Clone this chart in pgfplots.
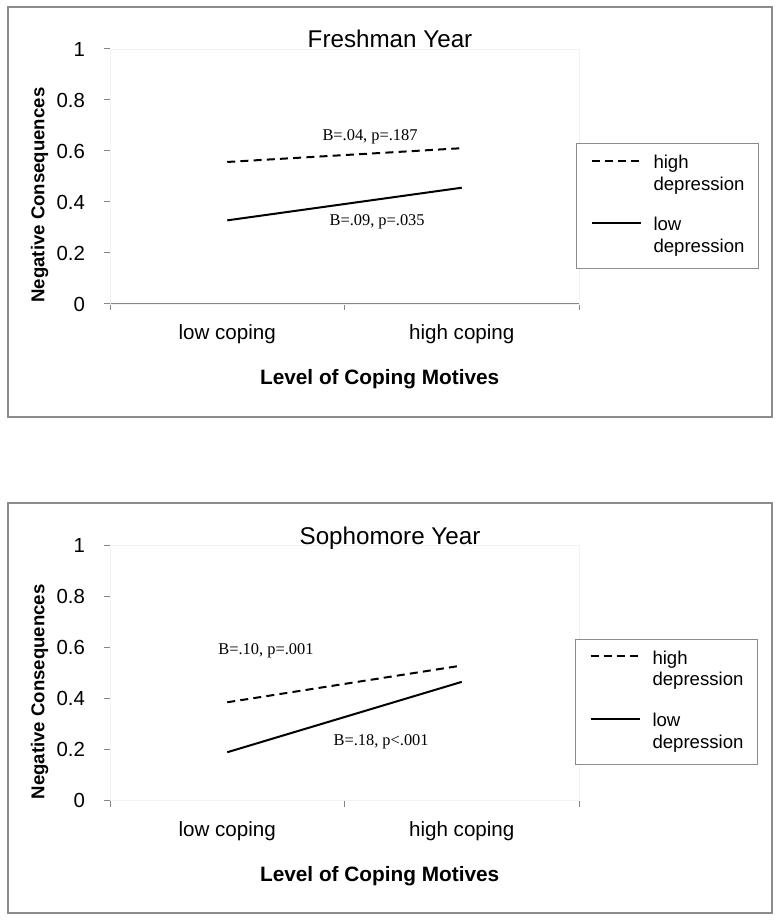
\documentclass[border=0pt]{standalone}
\usepackage{pgfplots}
\pgfplotsset{compat=1.18}
\usepackage{fontspec}
\setmainfont{Liberation Sans}
\newfontfamily\annfont{Liberation Serif}
\definecolor{axgray}{HTML}{868686}
\definecolor{framegray}{HTML}{8C8C8C}
\pgfplotsset{
  panel/.style={
    scale only axis, width=234.5pt, height=127.5pt,
    anchor=south west, clip=false,
    xmin=0, xmax=2, ymin=0, ymax=1,
    axis x line*=bottom, axis y line*=left,
    axis line style={axgray, line width=0.5pt, -},
    every tick/.style={axgray, line width=0.5pt},
    tick align=outside, major tick length=3pt,
    xtick={0,1,2}, xticklabels={,,},
    extra x ticks={0.5,1.5}, extra x tick labels={low coping, high coping},
    extra x tick style={major tick length=0pt},
    xticklabel style={font=\fontsize{10.3}{12}\selectfont, yshift=-7pt},
    ytick={0,0.2,0.4,0.6,0.8,1},
    yticklabels={0,0.2,0.4,0.6,0.8,1},
    yticklabel style={font=\fontsize{10.2}{12}\selectfont, xshift=-6pt},
    xlabel={Level of Coping Motives},
    xlabel style={font=\bfseries\fontsize{10.4}{12}\selectfont, at={(axis description cs:0.575,-0.294)}, anchor=center},
    ylabel={Negative Consequences},
    ylabel style={font=\bfseries\fontsize{9.3}{11}\selectfont, at={(axis description cs:-0.1503,0.427)}, anchor=center},
    every axis title shift=0pt,
    title style={at={(axis description cs:0.597,1.006)}, anchor=base, font=\fontsize{12.1}{14}\selectfont, inner sep=0pt},
    legend style={draw=framegray, line width=0.5pt, fill=white,
      font=\fontsize{9.3}{10.75}\selectfont,
      inner xsep=7pt, inner ysep=5pt, row sep=9.6pt, column sep=6pt,
      nodes={inner sep=0pt, anchor=base west, text depth=}},
    legend image code/.code={\draw[#1, line width=1pt] (0pt,4pt) -- (24.5pt,4pt);},
  },
  hi/.style={black, line width=1pt, dash pattern=on 4pt off 2.6pt, mark=none},
  lo/.style={black, line width=1pt, mark=none},
}
\begin{document}
\begin{tikzpicture}
\useasboundingbox (0,0) rectangle (390pt,460.5pt);
\draw[framegray, line width=0.6pt] (4pt,252pt) rectangle (386pt,457pt);
\draw[framegray, line width=0.6pt] (4pt,4pt) rectangle (386pt,209pt);

\begin{axis}[panel, at={(55pt,308.5pt)}, title={Freshman Year},
  legend style={at={(axis description cs:0.9936,0.631)}, anchor=north west}]
\draw[black!5] (rel axis cs:0,0) rectangle (rel axis cs:1,1);
\addplot[hi] coordinates {(0.5,0.557) (1.5,0.611)};
\addlegendentry{\begin{tabular}[t]{@{}l@{}}high\\depression\end{tabular}}
\addplot[lo] coordinates {(0.5,0.328) (1.5,0.456)};
\addlegendentry{\begin{tabular}[t]{@{}l@{}}low\\depression\end{tabular}}
\node[font=\annfont\fontsize{8.2}{10}\selectfont] at (axis cs:1.109,0.655) {B=.04, p=.187};
\node[font=\annfont\fontsize{8.2}{10}\selectfont] at (axis cs:1.139,0.322) {B=.09, p=.035};
\end{axis}

\begin{axis}[panel, at={(55pt,60.15pt)}, title={Sophomore Year},
  legend style={at={(axis description cs:0.9915,0.635)}, anchor=north west}]
\draw[black!5] (rel axis cs:0,0) rectangle (rel axis cs:1,1);
\addplot[hi] coordinates {(0.5,0.386) (1.5,0.530)};
\addlegendentry{\begin{tabular}[t]{@{}l@{}}high\\depression\end{tabular}}
\addplot[lo] coordinates {(0.5,0.190) (1.5,0.466)};
\addlegendentry{\begin{tabular}[t]{@{}l@{}}low\\depression\end{tabular}}
\node[font=\annfont\fontsize{8.2}{10}\selectfont] at (axis cs:0.665,0.588) {B=.10, p=.001};
\node[font=\annfont\fontsize{8.2}{10}\selectfont] at (axis cs:1.156,0.231) {B=.18, p<.001};
\end{axis}
\end{tikzpicture}
\end{document}
